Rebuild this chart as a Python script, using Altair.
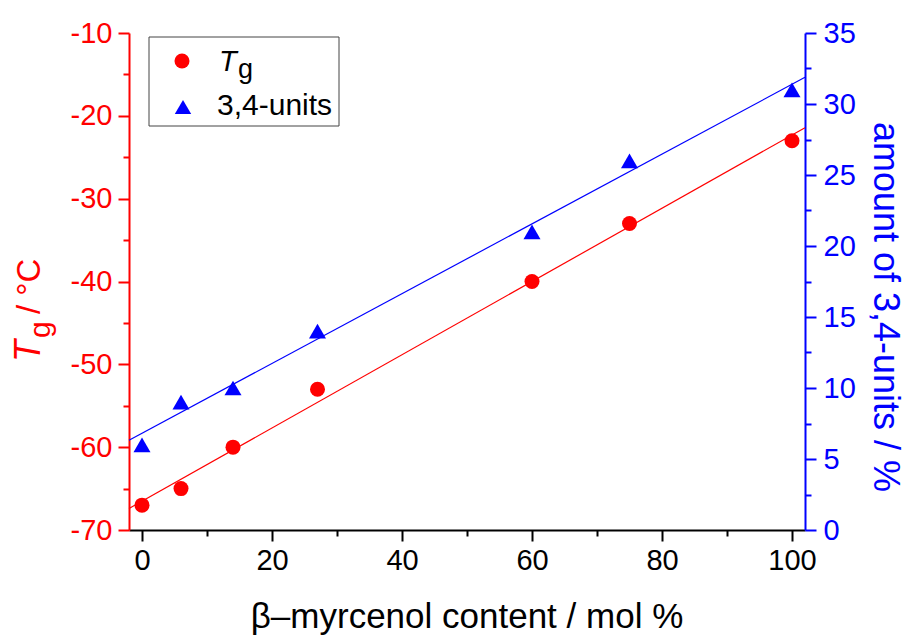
import altair as alt
import pandas as pd

# ---- data ----
content = [0, 6, 14, 27, 60, 75, 100]          # beta-myrcenol content / mol %
tg = [-67, -65, -60, -53, -40, -33, -23]        # Tg / °C
units34 = [6, 9, 10, 14, 21, 26, 31]            # amount of 3,4-units / %

x_major = [0, 20, 40, 60, 80, 100]
x_minor = [10, 30, 50, 70, 90]
tg_major = [-70, -60, -50, -40, -30, -20, -10]
tg_minor = [-65, -55, -45, -35, -25, -15]
u_major = [0, 5, 10, 15, 20, 25, 30, 35]
u_minor = [2.5, 7.5, 12.5, 17.5, 22.5, 27.5, 32.5]

x_domain = [-2, 102]
tg_domain = [-70, -10]
u_domain = [0, 35]

df = pd.DataFrame({"content": content, "tg": tg, "units": units34})
one = pd.DataFrame({"k": [0]})

FONT = "Liberation Sans"
RED = "#ff0000"
BLUE = "#0000ff"
W, H = 676, 497

xs = alt.Scale(domain=x_domain, nice=False, zero=False)
tgs = alt.Scale(domain=tg_domain, nice=False, zero=False)
us = alt.Scale(domain=u_domain, nice=False, zero=False)


def axis_major(orient, values, color, pad):
    return alt.Axis(orient=orient, values=values, title=None, grid=False,
                    domain=True, domainColor=color, domainWidth=2,
                    ticks=True, tickColor=color, tickWidth=2, tickSize=11,
                    labelColor=color, labelFont=FONT, labelFontSize=29,
                    labelPadding=pad, labelOverlap=False,
                    labelExpr="'' + datum.value")


def axis_minor(orient, values, color):
    return alt.Axis(orient=orient, values=values, title=None, grid=False,
                    domain=False, labels=False, ticks=True, tickColor=color,
                    tickWidth=2, tickSize=6)


base = alt.Chart(df)

red_fit = base.transform_regression("content", "tg", extent=x_domain).mark_line(
    color=RED, strokeWidth=1.2).encode(
    x=alt.X("content:Q", scale=xs, axis=None),
    y=alt.Y("tg:Q", scale=tgs, axis=None))

blue_fit = base.transform_regression("content", "units", extent=x_domain).mark_line(
    color=BLUE, strokeWidth=1.2).encode(
    x=alt.X("content:Q", scale=xs, axis=None),
    y=alt.Y("units:Q", scale=us, axis=None))

red_pts = base.mark_point(shape="circle", filled=True, size=225, color=RED, opacity=1).encode(
    x=alt.X("content:Q", scale=xs, axis=axis_major("bottom", x_major, "black", 5)),
    y=alt.Y("tg:Q", scale=tgs, axis=axis_major("left", tg_major, RED, 6)))

red_minor = base.mark_point(opacity=0).encode(
    x=alt.X("content:Q", scale=xs, axis=axis_minor("bottom", x_minor, "black")),
    y=alt.Y("tg:Q", scale=tgs, axis=axis_minor("left", tg_minor, RED)))

blue_pts = base.mark_point(shape="triangle-up", filled=True, size=290, color=BLUE, opacity=1).encode(
    x=alt.X("content:Q", scale=xs, axis=None),
    y=alt.Y("units:Q", scale=us, axis=axis_major("right", u_major, BLUE, 7)))

blue_minor = base.mark_point(opacity=0).encode(
    x=alt.X("content:Q", scale=xs, axis=None),
    y=alt.Y("units:Q", scale=us, axis=axis_minor("right", u_minor, BLUE)))


def txt(s, x, y, size, color="black", angle=0, style="normal", align="left"):
    return alt.Chart(one).mark_text(
        text=s, font=FONT, fontSize=size, fontStyle=style, color=color,
        angle=angle, align=align, baseline="alphabetic").encode(
        x=alt.value(x), y=alt.value(y))


# axis titles
x_title = txt("β–myrcenol content / mol %", 338, 595, 35, "black", align="center")
y_title_T = txt("T", -89, 329, 36, RED, angle=270, style="italic")
y_title_g = txt("g", -79, 305, 30, RED, angle=270)
y_title_rest = txt("/ °C", -89, 281, 33, RED, angle=270)
r_title = txt("amount of 3,4-units / %", 745, 274, 36, BLUE, angle=90, align="center")

# legend
leg_box = alt.Chart(one).mark_rect(fill="white", stroke="#444444", strokeWidth=1).encode(
    x=alt.value(20), x2=alt.value(210), y=alt.value(4), y2=alt.value(93))
leg_c = alt.Chart(one).mark_point(shape="circle", filled=True, size=225, color=RED, opacity=1).encode(
    x=alt.value(53), y=alt.value(28))
leg_t = alt.Chart(one).mark_point(shape="triangle-up", filled=True, size=270, color=BLUE, opacity=1).encode(
    x=alt.value(54), y=alt.value(74))
leg_T = txt("T", 90, 38, 29, "black", style="italic")
leg_g = txt("g", 109, 45, 27, "black")
leg_u = txt("3,4-units", 88, 82, 30, "black")

chart = alt.layer(
    red_fit, blue_fit, red_minor, blue_minor, red_pts, blue_pts,
    x_title, y_title_T, y_title_g, y_title_rest, r_title,
    leg_box, leg_c, leg_t, leg_T, leg_g, leg_u,
).resolve_scale(x="independent", y="independent").resolve_axis(
    x="independent", y="independent"
).properties(
    width=W, height=H,
    padding={"left": 129, "top": 33, "right": 101, "bottom": 105},
    autosize=alt.AutoSizeParams(type="none"),
    background="white",
).configure_view(strokeWidth=0)

chart.save("out.html", embed_options={"renderer": "svg", "actions": False})
